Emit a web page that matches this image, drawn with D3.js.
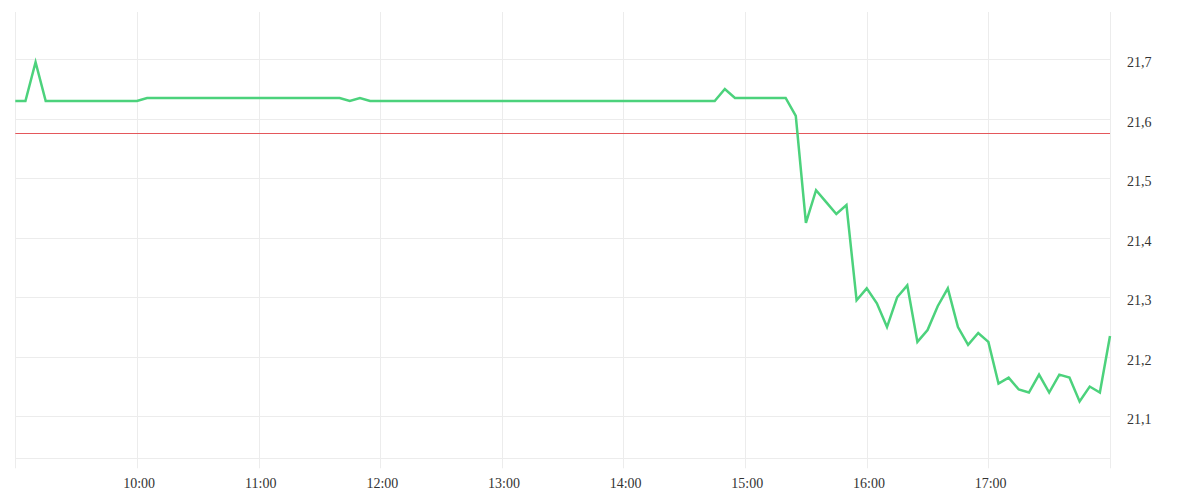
<!DOCTYPE html>
<html>
<head>
<meta charset="utf-8">
<script src="https://cdn.jsdelivr.net/npm/d3@7"></script>
<style>
  html, body { margin: 0; padding: 0; background: #ffffff; }
  svg { display: block; }
  text { font-family: "Liberation Serif", serif; font-size: 14px; fill: #333; }
</style>
</head>
<body>
<svg id="chart" width="1200" height="500"></svg>
<script>
// ---- data ----
const times = [
  "09:00","09:05","09:10","09:15","09:20","09:25","09:30","09:35","09:40","09:45","09:50","09:55",
  "10:00","10:05","10:10","10:15","10:20","10:25","10:30","10:35","10:40","10:45","10:50","10:55",
  "11:00","11:05","11:10","11:15","11:20","11:25","11:30","11:35","11:40","11:45","11:50","11:55",
  "12:00","12:05","12:10","12:15","12:20","12:25","12:30","12:35","12:40","12:45","12:50","12:55",
  "13:00","13:05","13:10","13:15","13:20","13:25","13:30","13:35","13:40","13:45","13:50","13:55",
  "14:00","14:05","14:10","14:15","14:20","14:25","14:30","14:35","14:40","14:45","14:50","14:55",
  "15:00","15:05","15:10","15:15","15:20","15:25","15:30","15:35","15:40","15:45","15:50","15:55",
  "16:00","16:05","16:10","16:15","16:20","16:25","16:30","16:35","16:40","16:45","16:50","16:55",
  "17:00","17:05","17:10","17:15","17:20","17:25","17:30","17:35","17:40","17:45","17:50","17:55",
  "18:00"
];
const prices = [
  21.63,21.63,21.695,21.63,21.63,21.63,21.63,21.63,21.63,21.63,21.63,21.63,
  21.63,21.635,21.635,21.635,21.635,21.635,21.635,21.635,21.635,21.635,21.635,21.635,
  21.635,21.635,21.635,21.635,21.635,21.635,21.635,21.635,21.635,21.63,21.635,21.63,
  21.63,21.63,21.63,21.63,21.63,21.63,21.63,21.63,21.63,21.63,21.63,21.63,
  21.63,21.63,21.63,21.63,21.63,21.63,21.63,21.63,21.63,21.63,21.63,21.63,
  21.63,21.63,21.63,21.63,21.63,21.63,21.63,21.63,21.63,21.63,21.65,21.635,
  21.635,21.635,21.635,21.635,21.635,21.605,21.425,21.48,21.46,21.44,21.455,21.295,
  21.315,21.29,21.25,21.30,21.32,21.225,21.245,21.285,21.315,21.25,21.22,21.24,
  21.225,21.155,21.165,21.145,21.14,21.17,21.14,21.17,21.165,21.125,21.15,21.14,
  21.235
];
const referencePrice = 21.575;
const yTickValues = [21.1, 21.2, 21.3, 21.4, 21.5, 21.6, 21.7];
const xTickLabels = ["10:00","11:00","12:00","13:00","14:00","15:00","16:00","17:00"];
const xGridTimes = ["09:00","10:00","11:00","12:00","13:00","14:00","15:00","16:00","17:00","18:00"];
const xDomain = ["09:00", "18:00"];
const yDomain = [21.0294, 21.7795];

// ---- layout ----
const plotLeft = 15.3, plotRight = 1110, plotTop = 12, plotBottom = 458.3;
const fontFamily = '"Liberation Serif", serif';
const parseT = d3.timeParse("%H:%M");
const svg = d3.select("#chart");

const x = d3.scaleTime().domain(xDomain.map(parseT)).range([plotLeft, plotRight]);
const y = d3.scaleLinear().domain(yDomain).range([plotBottom, plotTop]);

const locale = d3.formatLocale({decimal: ",", thousands: ".", grouping: [3], currency: ["", "€"]});
const fmtY = locale.format(".1f");

const grid = svg.append("g").attr("class", "grid");

// horizontal grid lines
grid.selectAll("line.h").data(yTickValues.concat([yDomain[0]])).join("line")
  .attr("class", "h")
  .attr("x1", plotLeft).attr("x2", plotRight)
  .attr("y1", d => Math.round(y(d)) + 0.5).attr("y2", d => Math.round(y(d)) + 0.5)
  .attr("stroke", "#ececec").attr("stroke-width", 1);

// vertical grid lines (with tick extension below)
grid.selectAll("line.v").data(xGridTimes.map(parseT)).join("line")
  .attr("class", "v")
  .attr("x1", d => Math.round(x(d)) + 0.5).attr("x2", d => Math.round(x(d)) + 0.5)
  .attr("y1", plotTop).attr("y2", plotBottom + 10)
  .attr("stroke", "#ececec").attr("stroke-width", 1);

// y axis labels (right)
const yAxis = d3.axisRight(y).tickValues(yTickValues).tickFormat(fmtY).tickSize(0).tickPadding(0);
const gy = svg.append("g").attr("transform", `translate(${plotRight + 17},2.9)`).call(yAxis);
gy.select(".domain").remove();
gy.selectAll("text").style("font-family", fontFamily).style("font-size", "14px").attr("fill", "#333");

// x axis labels
const xAxis = d3.axisBottom(x).tickValues(xTickLabels.map(parseT)).tickFormat(d3.timeFormat("%H:%M")).tickSize(0).tickPadding(0);
const gx = svg.append("g").attr("transform", `translate(1.7,${plotBottom + 19.7})`).call(xAxis);
gx.select(".domain").remove();
gx.selectAll("text").style("font-family", fontFamily).style("font-size", "14px").attr("fill", "#333");

// reference line (crisp 1px)
const refY = Math.floor(y(referencePrice)) + 0.5;
svg.append("line")
  .attr("x1", plotLeft).attr("x2", plotRight)
  .attr("y1", refY).attr("y2", refY)
  .attr("stroke", "#e4575b").attr("stroke-width", 1);

// price line
const line = d3.line().x((d, i) => x(parseT(times[i]))).y(d => y(d));
svg.append("path")
  .datum(prices)
  .attr("d", line)
  .attr("fill", "none")
  .attr("stroke", "#4cd27c")
  .attr("stroke-width", 2.5)
  .attr("stroke-linejoin", "miter");
</script>
</body>
</html>
